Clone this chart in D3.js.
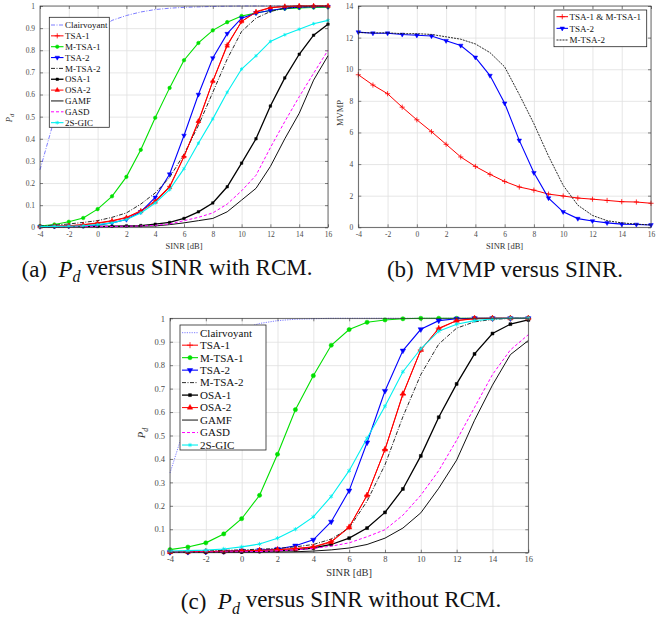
<!DOCTYPE html>
<meta charset="utf-8">
<head>
    <title>Pd and MVMP versus SINR</title>
    <script src="https://cdn.jsdelivr.net/npm/d3@7/dist/d3.min.js"></script>
</head>

<style>
    body { margin: 0; background: #fff; }
    svg { font-family: "Liberation Serif", "Times New Roman", serif; }
    .grid line { stroke: #e0e0e0; stroke-width: 0.8px; }
    .grid path { display: none; }
    .axis path { display: none; }
    .axis line { stroke: #333; stroke-width: 0.6px; }
    .axis text { fill: #4a4a4a; }
    .frame { fill: none; stroke: #333; stroke-width: 0.7px; }
    .legend-box { fill: #fff; stroke: #262626; stroke-width: 0.8px; }
</style>

<svg width="672" height="621"></svg>

<script>
    // x axis shared by all three panels
    var sinrDb = [-4, -3, -2, -1, 0, 1, 2, 3, 4, 5, 6, 7, 8, 9, 10, 11, 12, 13, 14, 15, 16];
    var xTicks = [-4, -2, 0, 2, 4, 6, 8, 10, 12, 14, 16];
    var pdTicks = [0, 0.1, 0.2, 0.3, 0.4, 0.5, 0.6, 0.7, 0.8, 0.9, 1];
    var mvmpTicks = [0, 2, 4, 6, 8, 10, 12, 14];

    // (a) Pd with RCM
    var aClairvoyant = [0.26, 0.49, 0.68, 0.81, 0.89, 0.935, 0.957, 0.973, 0.984, 0.99, 0.994, 0.996, 0.998, 0.999, 1, 1, 1, 1, 1, 1, 1];
    var aTsa1 = [0.003, 0.005, 0.007, 0.012, 0.02, 0.03, 0.045, 0.075, 0.12, 0.185, 0.32, 0.475, 0.66, 0.825, 0.93, 0.975, 0.993, 0.998, 1, 1, 1];
    var aMtsa1 = [0.006, 0.013, 0.025, 0.042, 0.082, 0.14, 0.228, 0.35, 0.495, 0.63, 0.755, 0.833, 0.89, 0.927, 0.955, 0.968, 0.98, 0.988, 0.991, 0.993, 0.995];
    var aTsa2 = [0.003, 0.004, 0.005, 0.007, 0.01, 0.02, 0.035, 0.07, 0.135, 0.24, 0.415, 0.6, 0.765, 0.875, 0.945, 0.968, 0.98, 0.99, 0.995, 0.997, 0.997];
    var aMtsa2 = [0.005, 0.01, 0.015, 0.022, 0.03, 0.045, 0.065, 0.105, 0.155, 0.225, 0.33, 0.46, 0.61, 0.76, 0.885, 0.945, 0.975, 0.99, 0.995, 0.998, 1];
    var aOsa1 = [0.002, 0.002, 0.003, 0.003, 0.004, 0.005, 0.006, 0.008, 0.014, 0.022, 0.04, 0.07, 0.11, 0.183, 0.29, 0.4, 0.548, 0.675, 0.782, 0.868, 0.918];
    var aOsa2 = [0.003, 0.005, 0.007, 0.011, 0.018, 0.028, 0.043, 0.072, 0.115, 0.18, 0.32, 0.48, 0.66, 0.82, 0.93, 0.972, 0.992, 0.998, 1, 1, 1];
    var aGamf = [0.001, 0.001, 0.002, 0.002, 0.002, 0.003, 0.004, 0.005, 0.006, 0.012, 0.02, 0.03, 0.04, 0.07, 0.123, 0.176, 0.275, 0.4, 0.515, 0.665, 0.775];
    var aGasd = [0.002, 0.002, 0.002, 0.003, 0.003, 0.004, 0.005, 0.006, 0.009, 0.015, 0.03, 0.045, 0.065, 0.105, 0.165, 0.235, 0.36, 0.478, 0.59, 0.696, 0.8];
    var a2sGic = [0.003, 0.004, 0.005, 0.007, 0.012, 0.02, 0.035, 0.065, 0.11, 0.17, 0.265, 0.38, 0.49, 0.61, 0.715, 0.775, 0.84, 0.87, 0.895, 0.92, 0.935];

    // (b) MVMP
    var bTsa1 = [9.65, 9.0, 8.45, 7.6, 6.8, 6.05, 5.25, 4.45, 3.85, 3.35, 2.9, 2.55, 2.35, 2.1, 1.98, 1.85, 1.78, 1.7, 1.62, 1.6, 1.52];
    var bTsa2 = [12.35, 12.28, 12.28, 12.2, 12.15, 12.1, 11.8, 11.5, 10.75, 9.6, 7.85, 5.5, 3.45, 1.85, 0.98, 0.55, 0.4, 0.28, 0.2, 0.18, 0.15];
    var bMtsa2 = [12.32, 12.3, 12.3, 12.25, 12.25, 12.2, 12.05, 11.9, 11.6, 11.05, 10.15, 8.4, 6.55, 4.5, 2.65, 1.4, 0.75, 0.42, 0.28, 0.2, 0.15];

    // (c) Pd without RCM
    var cClairvoyant = [0.34, 0.58, 0.78, 0.9, 0.955, 0.978, 0.99, 0.996, 0.998, 1, 1, 1, 1, 1, 1, 1, 1, 1, 1, 1, 1];
    var cTsa1 = [0.003, 0.004, 0.005, 0.006, 0.008, 0.01, 0.013, 0.018, 0.025, 0.048, 0.11, 0.245, 0.44, 0.675, 0.865, 0.958, 0.99, 0.998, 1, 1, 1];
    var cMtsa1 = [0.013, 0.024, 0.042, 0.08, 0.145, 0.245, 0.42, 0.61, 0.755, 0.885, 0.952, 0.983, 0.993, 0.998, 1, 1, 1, 1, 1, 1, 1];
    var cTsa2 = [0.002, 0.003, 0.004, 0.006, 0.009, 0.011, 0.016, 0.03, 0.055, 0.132, 0.265, 0.47, 0.69, 0.862, 0.953, 0.99, 0.998, 1, 1, 1, 1];
    var cMtsa2 = [0.005, 0.006, 0.008, 0.01, 0.012, 0.015, 0.018, 0.025, 0.035, 0.058, 0.105, 0.22, 0.375, 0.58, 0.76, 0.89, 0.958, 0.985, 0.995, 1, 1];
    var cOsa1 = [0.001, 0.001, 0.002, 0.002, 0.003, 0.005, 0.008, 0.012, 0.02, 0.035, 0.062, 0.105, 0.172, 0.272, 0.413, 0.578, 0.72, 0.848, 0.935, 0.975, 0.993];
    var cOsa2 = [0.003, 0.004, 0.005, 0.006, 0.008, 0.01, 0.013, 0.017, 0.024, 0.045, 0.108, 0.245, 0.44, 0.678, 0.865, 0.955, 0.99, 1, 1, 1, 1];
    var cGamf = [0.001, 0.001, 0.001, 0.002, 0.002, 0.002, 0.003, 0.004, 0.007, 0.012, 0.02, 0.035, 0.062, 0.105, 0.17, 0.275, 0.395, 0.565, 0.715, 0.845, 0.905];
    var cGasd = [0.002, 0.002, 0.003, 0.003, 0.004, 0.005, 0.008, 0.012, 0.018, 0.028, 0.042, 0.068, 0.098, 0.16, 0.245, 0.35, 0.48, 0.62, 0.76, 0.865, 0.93];
    var c2sGic = [0.007, 0.009, 0.011, 0.016, 0.025, 0.037, 0.062, 0.1, 0.153, 0.24, 0.35, 0.488, 0.625, 0.772, 0.87, 0.945, 0.975, 0.99, 0.997, 1, 1];

    var svg = d3.select('svg');

    // line / marker styles per method
    function pdSeries(v, clairDash) {
        return [
            {name: 'Clairvoyant', values: v[0], color: '#5c5cff', width: 0.8, dash: clairDash},
            {name: 'TSA-1', values: v[1], color: '#ff0000', width: 1, marker: 'plus'},
            {name: 'M-TSA-1', values: v[2], color: '#00e000', width: 1.1, marker: 'circle'},
            {name: 'TSA-2', values: v[3], color: '#0000ff', width: 1.1, marker: 'down'},
            {name: 'M-TSA-2', values: v[4], color: '#111', width: 0.9, dash: '4,1.5,1,1.5'},
            {name: 'OSA-1', values: v[5], color: '#000', width: 1.3, marker: 'square'},
            {name: 'OSA-2', values: v[6], color: '#ff0000', width: 1, marker: 'up'},
            {name: 'GAMF', values: v[7], color: '#111', width: 1},
            {name: 'GASD', values: v[8], color: '#ff00ff', width: 1, dash: '3,2'},
            {name: '2S-GIC', values: v[9], color: '#00f0f0', width: 1.1, marker: 'star'}
        ];
    }

    function marker(type, k) {
        var map = {plus: [d3.symbolPlus, 10], circle: [d3.symbolCircle, 10], down: [d3.symbolTriangle, 9],
            up: [d3.symbolTriangle, 9], square: [d3.symbolSquare, 6], star: [d3.symbolAsterisk, 9]};
        return d3.symbol().type(map[type][0]).size(map[type][1] * k)();
    }

    function addMarker(sel, s, px, py, k) {
        var open = s.marker === 'plus' || s.marker === 'star';
        sel.append('path')
            .attr('d', marker(s.marker, k))
            .attr('transform', 'translate(' + px + ',' + py + ')' + (s.marker === 'down' ? ' rotate(180)' : ''))
            .attr('fill', open ? 'none' : s.color)
            .attr('stroke', s.color)
            .attr('stroke-width', open ? 0.8 : 0.5);
    }

    function drawPanel(p) {
        var g = svg.append('g');
        var x = d3.scaleLinear().domain([-4, 16]).range([p.left, p.right]);
        var y = d3.scaleLinear().domain(p.yDomain).range([p.bottom, p.top]);
        var h = p.bottom - p.top, w = p.right - p.left;

        // grid
        g.append('g').attr('class', 'grid').attr('transform', 'translate(0,' + p.bottom + ')')
            .call(d3.axisBottom(x).tickValues(xTicks).tickSize(-h).tickFormat(''));
        g.append('g').attr('class', 'grid').attr('transform', 'translate(' + p.left + ',0)')
            .call(d3.axisLeft(y).tickValues(p.yTicks).tickSize(-w).tickFormat(''));

        // axes with inward ticks
        g.append('g').attr('class', 'axis').attr('transform', 'translate(0,' + p.bottom + ')')
            .call(d3.axisBottom(x).tickValues(xTicks).tickSize(-3).tickPadding(p.xPad).tickFormat(function (d) { return String(d); }))
            .attr('font-family', null).attr('font-size', p.tickFont);
        g.append('g').attr('class', 'axis').attr('transform', 'translate(' + p.left + ',0)')
            .call(d3.axisLeft(y).tickValues(p.yTicks).tickSize(-3).tickPadding(p.yPad).tickFormat(function (d) { return String(+d.toFixed(1)); }))
            .attr('font-family', null).attr('font-size', p.tickFont);
        g.append('g').attr('class', 'axis').attr('transform', 'translate(0,' + p.top + ')')
            .call(d3.axisTop(x).tickValues(xTicks).tickSize(-3).tickFormat(''));
        g.append('g').attr('class', 'axis').attr('transform', 'translate(' + p.right + ',0)')
            .call(d3.axisRight(y).tickValues(p.yTicks).tickSize(-3).tickFormat(''));

        // curves
        var line = d3.line()
            .x(function (d, i) { return x(sinrDb[i]); })
            .y(function (d) { return y(d); });
        p.series.forEach(function (s) {
            g.append('path')
                .attr('d', line(s.values))
                .attr('fill', 'none')
                .attr('stroke', s.color)
                .attr('stroke-width', s.width)
                .attr('stroke-dasharray', s.dash || null);
            if (s.marker) {
                s.values.forEach(function (v, i) { addMarker(g, s, x(sinrDb[i]), y(v), p.mk); });
            }
        });

        g.append('rect').attr('class', 'frame')
            .attr('x', p.left).attr('y', p.top).attr('width', w).attr('height', h);

        // axis labels
        g.append('text')
            .attr('x', (p.left + p.right) / 2).attr('y', p.xLabelY)
            .attr('text-anchor', 'middle').attr('fill', '#333')
            .style('font-size', p.labelFont + 'px')
            .text('SINR [dB]');
        var yl = g.append('text')
            .attr('transform', 'translate(' + p.yLabelX + ',' + p.yLabelY + ') rotate(-90)')
            .attr('text-anchor', 'middle').attr('fill', '#333')
            .style('font-size', p.labelFont + 'px');
        if (p.yLabel === 'Pd') {
            yl.append('tspan').attr('font-style', 'italic').text('P');
            yl.append('tspan').attr('font-style', 'italic').attr('dy', '0.35em')
                .style('font-size', (p.labelFont * 0.75) + 'px').text('d');
        } else {
            yl.text(p.yLabel);
        }

        // legend
        var L = p.legend;
        var lg = g.append('g');
        lg.append('rect').attr('class', 'legend-box')
            .attr('x', L.x).attr('y', L.y).attr('width', L.w).attr('height', L.h);
        p.series.forEach(function (s, i) {
            var ey = L.first + i * L.step;
            lg.append('line')
                .attr('x1', L.lx0).attr('x2', L.lx1).attr('y1', ey).attr('y2', ey)
                .attr('stroke', s.color).attr('stroke-width', s.width)
                .attr('stroke-dasharray', s.dash || null);
            if (s.marker) addMarker(lg, s, (L.lx0 + L.lx1) / 2, ey, p.mk);
            lg.append('text')
                .attr('x', L.tx).attr('y', ey).attr('dy', '0.35em')
                .attr('fill', '#111')
                .style('font-size', L.font + 'px')
                .text(s.name);
        });
    }

    drawPanel({
        left: 40, right: 328, top: 6, bottom: 227.3, mk: 1,
        yDomain: [0, 1], yTicks: pdTicks, tickFont: 7.5, labelFont: 8.5, xPad: 4, yPad: 5,
        xLabelY: 249, yLabelX: 12, yLabelY: 118, yLabel: 'Pd',
        series: pdSeries([aClairvoyant, aTsa1, aMtsa1, aTsa2, aMtsa2, aOsa1, aOsa2, aGamf, aGasd, a2sGic], '4,1.5,1,1.5'),
        legend: {x: 49.3, y: 17.3, w: 60, h: 110, first: 25, step: 10.85, lx0: 51, lx1: 63.5, tx: 65, font: 9}
    });

    drawPanel({
        left: 358.3, right: 651, top: 6, bottom: 227.3, mk: 1,
        yDomain: [0, 14], yTicks: mvmpTicks, tickFont: 7.5, labelFont: 8.5, xPad: 4, yPad: 5,
        xLabelY: 249, yLabelX: 343, yLabelY: 113, yLabel: 'MVMP',
        series: [
            {name: 'TSA-1 & M-TSA-1', values: bTsa1, color: '#ff0000', width: 1, marker: 'plus'},
            {name: 'TSA-2', values: bTsa2, color: '#0000ff', width: 1.1, marker: 'down'},
            {name: 'M-TSA-2', values: bMtsa2, color: '#111', width: 0.9, dash: '2,1'}
        ],
        legend: {x: 554, y: 10, w: 92.7, h: 36.7, first: 16.7, step: 11.65, lx0: 556.5, lx1: 568, tx: 569.5, font: 9}
    });

    drawPanel({
        left: 170, right: 528.3, top: 318.3, bottom: 552.7, mk: 1.4,
        yDomain: [0, 1], yTicks: pdTicks, tickFont: 8.5, labelFont: 10.5, xPad: 3, yPad: 5,
        xLabelY: 576, yLabelX: 145, yLabelY: 433, yLabel: 'Pd',
        series: pdSeries([cClairvoyant, cTsa1, cMtsa1, cTsa2, cMtsa2, cOsa1, cOsa2, cGamf, cGasd, c2sGic], '1.2,1.2'),
        legend: {x: 180, y: 325, w: 86, h: 125, first: 332.7, step: 12.48, lx0: 182, lx1: 198, tx: 200, font: 11}
    });

    // sub-figure captions
    var captions = [
        {x: 167, y: 277, pre: '(a)  ', post: ' versus SINR with RCM.'},
        {x: 505, y: 277, pre: '(b)  MVMP versus SINR.', post: null},
        {x: 341, y: 609, pre: '(c)  ', post: ' versus SINR without RCM.'}
    ];
    captions.forEach(function (c) {
        var t = svg.append('text')
            .attr('x', c.x).attr('y', c.y)
            .attr('text-anchor', 'middle')
            .attr('xml:space', 'preserve')
            .attr('fill', '#111')
            .style('font-size', '23px');
        t.append('tspan').text(c.pre);
        if (c.post !== null) {
            t.append('tspan').attr('font-style', 'italic').text('P');
            t.append('tspan').attr('font-style', 'italic').attr('dy', '0.3em').style('font-size', '16px').text('d');
            t.append('tspan').attr('dy', '-0.3em').text(c.post);
        }
    });
</script>
